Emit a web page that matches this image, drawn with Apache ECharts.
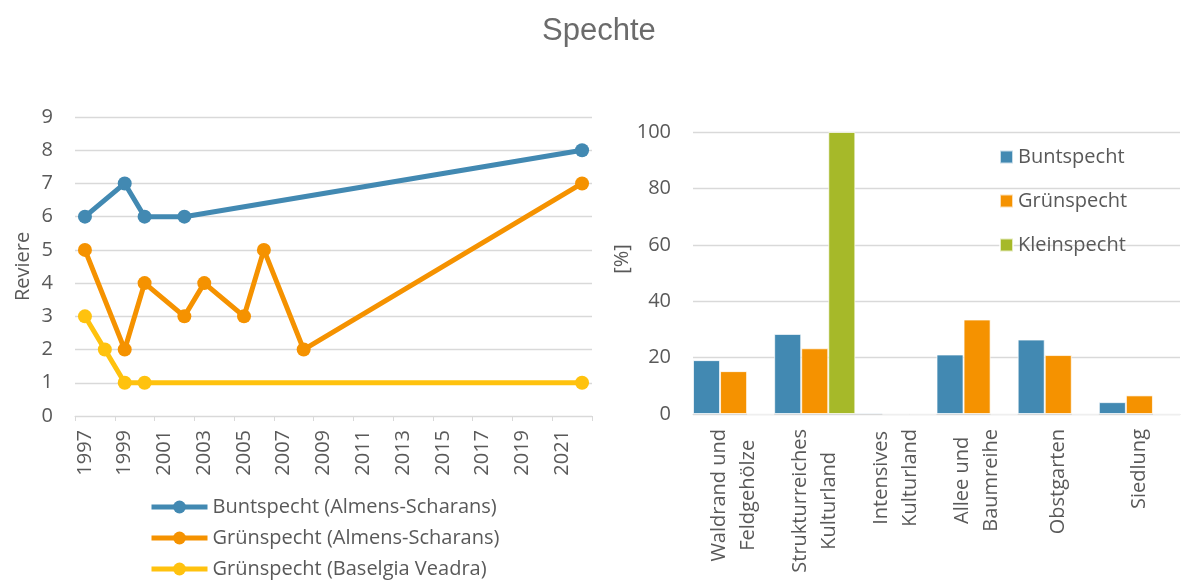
<!DOCTYPE html>
<html>
<head>
<meta charset="utf-8">
<script src="https://cdn.jsdelivr.net/npm/echarts@6/dist/echarts.min.js"></script>
<style>
  html, body { margin: 0; padding: 0; background: #fff; }
  #chart { width: 1182px; height: 585px; }
</style>
</head>
<body>
<div id="chart"></div>
<script>
// Territory counts per year (left panel)
const years = ['1997','1998','1999','2000','2001','2002','2003','2004','2005','2006','2007','2008','2009',
               '2010','2011','2012','2013','2014','2015','2016','2017','2018','2019','2020','2021','2022'];

const buntAlmensYears = ['1997', '1999', '2000', '2002', '2022'];
const buntAlmensValues = [6, 7, 6, 6, 8];

const gruenAlmensYears = ['1997', '1999', '2000', '2002', '2003', '2005', '2006', '2008', '2022'];
const gruenAlmensValues = [5, 2, 4, 3, 4, 3, 5, 2, 7];

const gruenBaselgiaYears = ['1997', '1998', '1999', '2000', '2022'];
const gruenBaselgiaValues = [3, 2, 1, 1, 1];

const lineNames = ['Buntspecht (Almens-Scharans)', 'Grünspecht (Almens-Scharans)', 'Grünspecht (Baselgia Veadra)'];

// Habitat shares in percent (right panel)
const habitats = ['Waldrand und\nFeldgehölze', 'Strukturreiches\nKulturland', 'Intensives\nKulturland',
                  'Allee und\nBaumreihe', 'Obstgarten', 'Siedlung'];
const barNames = ['Buntspecht', 'Grünspecht', 'Kleinspecht'];
const buntShare = [19.1, 28.4, 0.5, 21.1, 26.4, 4.2];
const gruenShare = [15.2, 23.3, 0, 33.5, 20.9, 6.6];
const kleinShare = [0, 100, 0, 0, 0, 0];

const leftTicks = { min: 0, max: 9, interval: 1 };
const rightTicks = { min: 0, max: 100, interval: 20 };

const BLUE = '#4289b2';
const ORANGE = '#f59200';
const YELLOW = '#ffc20e';
const GREEN = '#a6b929';
const TEXT = '#595959';
const GRIDC = '#d9d9d9';
const FONT = 'Open Sans';

function pairs(xs, ys) { return xs.map((x, i) => [x, ys[i]]); }

function lineSeries(name, xs, ys, color) {
  return {
    name: name, type: 'line', xAxisIndex: 0, yAxisIndex: 0,
    data: pairs(xs, ys),
    symbol: 'circle', symbolSize: 14, showAllSymbol: true,
    itemStyle: { color: color },
    lineStyle: { color: color, width: 5 },
    emphasis: { disabled: true },
    animation: false
  };
}

function barSeries(name, values, color) {
  return {
    name: name, type: 'bar', xAxisIndex: 1, yAxisIndex: 1,
    data: values,
    barGap: '0%', barCategoryGap: '0%',
    itemStyle: { color: color, borderColor: 'rgba(255,255,255,0.7)', borderWidth: 1 },
    emphasis: { disabled: true },
    animation: false
  };
}

const chart = echarts.init(document.getElementById('chart'), null, { renderer: 'canvas' });

chart.setOption({
  backgroundColor: '#fff',
  animation: false,
  textStyle: { fontFamily: FONT, color: TEXT },
  title: {
    text: 'Spechte', left: 542, top: 16, padding: 0,
    textStyle: { fontFamily: 'Liberation Sans', fontSize: 31, fontWeight: 'normal', color: '#6b6b6b' }
  },
  legend: [
    {
      data: lineNames, orient: 'vertical', left: 149, top: 497, height: 88, padding: 0,
      itemWidth: 56, itemHeight: 16, itemGap: 11, itemTextGap: 1,
      lineStyle: { width: 5 },
      textStyle: { fontFamily: FONT, fontSize: 20, color: TEXT },
      selectedMode: false
    },
    {
      data: barNames, orient: 'vertical', left: 999, top: 147, padding: 0,
      icon: 'rect', itemWidth: 13, itemHeight: 13, itemGap: 24, itemTextGap: 6,
      textStyle: { fontFamily: FONT, fontSize: 20, color: TEXT },
      selectedMode: false
    }
  ],
  grid: [
    { left: 75, right: 590, top: 117, bottom: 169 },
    { left: 693, right: 2, top: 132, bottom: 171 }
  ],
  xAxis: [
    {
      gridIndex: 0, type: 'category', data: years, boundaryGap: true,
      axisLine: { lineStyle: { color: GRIDC, width: 1 } },
      axisTick: { show: true, interval: 1, length: 5, lineStyle: { color: GRIDC } },
      axisLabel: { interval: 1, rotate: 90, margin: 14, fontFamily: FONT, fontSize: 20, color: TEXT },
      splitLine: { show: false }
    },
    {
      gridIndex: 1, type: 'category', data: habitats,
      axisLine: { lineStyle: { color: GRIDC, width: 1 } },
      axisTick: { show: false },
      axisLabel: {
        interval: 0, rotate: 90, margin: 15, fontFamily: FONT, fontSize: 20, color: TEXT,
        lineHeight: 29,
        formatter: v => v.split('\n').map(s => '{c|' + s + '}').join('\n'),
        rich: { c: { align: 'center', fontFamily: FONT, fontSize: 20, color: TEXT, lineHeight: 29 } }
      },
      splitLine: { show: false }
    }
  ],
  yAxis: [
    {
      gridIndex: 0, type: 'value', min: leftTicks.min, max: leftTicks.max, interval: leftTicks.interval,
      name: 'Reviere', nameLocation: 'middle', nameGap: 42,
      nameTextStyle: { fontFamily: FONT, fontSize: 20, color: TEXT },
      axisLine: { show: false }, axisTick: { show: false },
      axisLabel: { margin: 22, fontFamily: FONT, fontSize: 20, color: TEXT },
      splitLine: { lineStyle: { color: GRIDC, width: 1.3 } }
    },
    {
      gridIndex: 1, type: 'value', min: rightTicks.min, max: rightTicks.max, interval: rightTicks.interval,
      name: '[%]', nameLocation: 'middle', nameGap: 52,
      nameTextStyle: { fontFamily: FONT, fontSize: 20, color: TEXT, padding: [0, 0, 0, 28] },
      axisLine: { show: false }, axisTick: { show: false },
      axisLabel: { margin: 22, fontFamily: FONT, fontSize: 20, color: TEXT },
      splitLine: { lineStyle: { color: GRIDC, width: 1.3 } }
    }
  ],
  series: [
    lineSeries(lineNames[0], buntAlmensYears, buntAlmensValues, BLUE),
    lineSeries(lineNames[1], gruenAlmensYears, gruenAlmensValues, ORANGE),
    lineSeries(lineNames[2], gruenBaselgiaYears, gruenBaselgiaValues, YELLOW),
    barSeries(barNames[0], buntShare, BLUE),
    barSeries(barNames[1], gruenShare, ORANGE),
    barSeries(barNames[2], kleinShare, GREEN)
  ]
});
</script>
</body>
</html>
